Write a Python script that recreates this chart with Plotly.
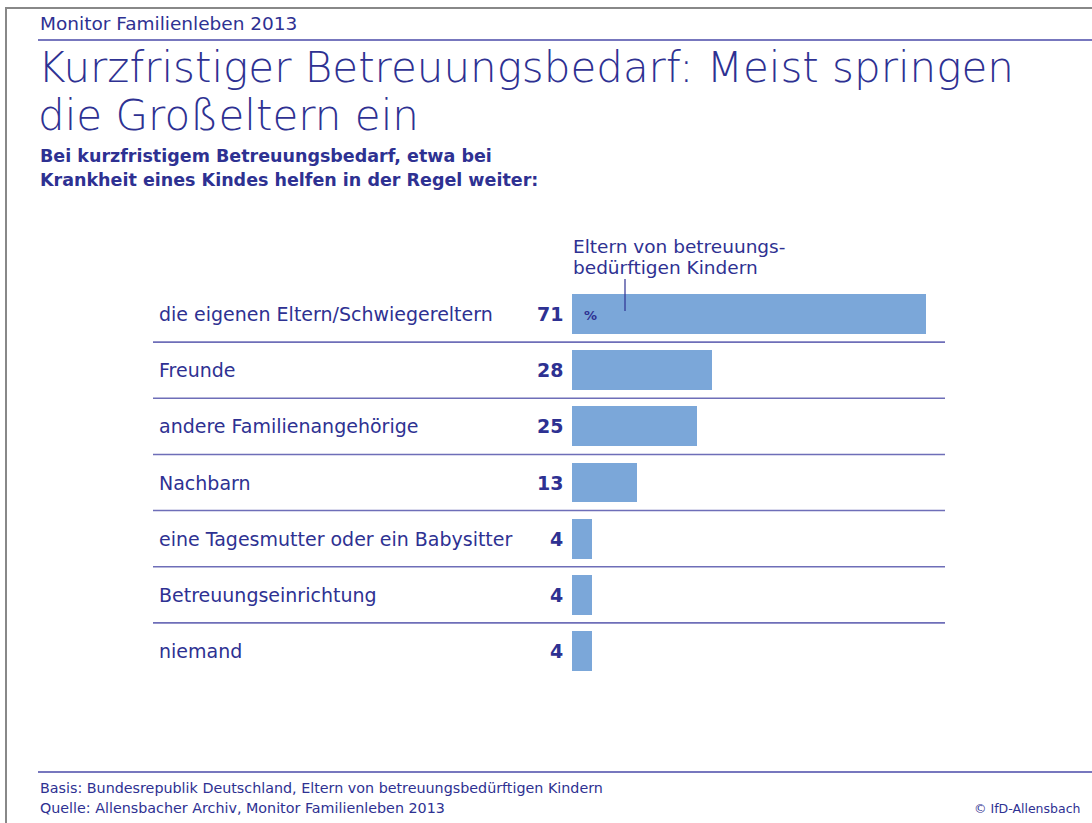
import plotly.graph_objects as go

# ---- data ----
categories = [
    "die eigenen Eltern/Schwiegereltern",
    "Freunde",
    "andere Familienangehörige",
    "Nachbarn",
    "eine Tagesmutter oder ein Babysitter",
    "Betreuungseinrichtung",
    "niemand",
]
values = [71, 28, 25, 13, 4, 4, 4]
series_name_lines = ["Eltern von betreuungs-", "bedürftigen Kindern"]

header = "Monitor Familienleben 2013"
title_lines = ["Kurzfristiger Betreuungsbedarf: Meist springen", "die Großeltern ein"]
subtitle_lines = ["Bei kurzfristigem Betreuungsbedarf, etwa bei",
                  "Krankheit eines Kindes helfen in der Regel weiter:"]
footer_lines = ["Basis: Bundesrepublik Deutschland, Eltern von betreuungsbedürftigen Kindern",
                "Quelle: Allensbacher Archiv, Monitor Familienleben 2013"]
copyright_text = "© IfD-Allensbach"

# ---- style ----
W, H = 1092, 823
ML, MR, MT, MB = 572, 166, 286, 144
PW, PH = W - ML - MR, H - MT - MB
TXT = "#2e3192"
BAR = "#7ba7d9"
FONT = "DejaVu Sans"


def px(x):
    return (x - ML) / PW


def py(y):
    return (H - MB - y) / PH


fig = go.Figure()
fig.add_trace(go.Bar(
    x=values, y=categories, orientation="h",
    marker=dict(color=BAR, line=dict(width=0)),
    width=0.71, hoverinfo="skip", showlegend=False,
))

ann = []
shapes = []

# category labels and values
for c, v in zip(categories, values):
    ann.append(dict(x=px(157), xref="paper", y=c, yref="y", text=c, showarrow=False,
                    xanchor="left", yanchor="middle",
                    font=dict(family=FONT, size=19, color=TXT)))
    ann.append(dict(x=px(565), xref="paper", y=c, yref="y", text="<b>%d</b>" % v, showarrow=False,
                    xanchor="right", yanchor="middle",
                    font=dict(family=FONT, size=19, color=TXT)))

# percent sign in first bar
ann.append(dict(x=2, xref="x", y=categories[0], yref="y", text="<b>%</b>", showarrow=False,
                xanchor="left", yanchor="middle", yshift=-1,
                font=dict(family=FONT, size=13, color=TXT)))

# series label
for t, yy in zip(series_name_lines, [246, 267]):
    ann.append(dict(x=px(571), xref="paper", y=py(yy), yref="paper", text=t, showarrow=False,
                    xanchor="left", yanchor="middle",
                    font=dict(family=FONT, size=18.5, color=TXT)))
shapes.append(dict(type="line", xref="paper", yref="paper", x0=px(625), x1=px(625),
                   y0=py(279), y1=py(311), line=dict(color=TXT, width=1.2)))

# separators between rows
for i in range(len(categories) - 1):
    shapes.append(dict(type="line", xref="paper", yref="y", x0=px(153), x1=px(945),
                       y0=i + 0.5, y1=i + 0.5, line=dict(color="#6e6eb8", width=1.6)))

# header / title / subtitle
ann.append(dict(x=px(38), xref="paper", y=py(23), yref="paper", text=header, showarrow=False,
                xanchor="left", yanchor="middle", font=dict(family=FONT, size=18.5, color=TXT)))
for t, yy in zip(title_lines, [67, 115]):
    ann.append(dict(x=px(36), xref="paper", y=py(yy), yref="paper", text=t, showarrow=False,
                    xanchor="left", yanchor="middle",
                    font=dict(family=FONT, size=42, color=TXT, weight=200)))
for t, yy in zip(subtitle_lines, [156, 180]):
    ann.append(dict(x=px(38), xref="paper", y=py(yy), yref="paper", text="<b>%s</b>" % t, showarrow=False,
                    xanchor="left", yanchor="middle", font=dict(family=FONT, size=17.5, color=TXT)))

# footer
for t, yy in zip(footer_lines, [788, 808]):
    ann.append(dict(x=px(38), xref="paper", y=py(yy), yref="paper", text=t, showarrow=False,
                    xanchor="left", yanchor="middle", font=dict(family=FONT, size=14.3, color=TXT)))
ann.append(dict(x=px(1082), xref="paper", y=py(808), yref="paper", text=copyright_text, showarrow=False,
                xanchor="right", yanchor="middle", font=dict(family=FONT, size=12.5, color=TXT)))

# frame and rules
shapes.append(dict(type="line", xref="paper", yref="paper", x0=px(5), x1=px(W), y0=py(8), y1=py(8),
                   line=dict(color="#888888", width=2)))
shapes.append(dict(type="line", xref="paper", yref="paper", x0=px(6), x1=px(6), y0=py(7), y1=py(H),
                   line=dict(color="#888888", width=2)))
shapes.append(dict(type="line", xref="paper", yref="paper", x0=px(38), x1=px(W), y0=py(40), y1=py(40),
                   line=dict(color="#4a4aa8", width=1.5)))
shapes.append(dict(type="line", xref="paper", yref="paper", x0=px(38), x1=px(W), y0=py(772), y1=py(772),
                   line=dict(color="#4a4aa8", width=1.5)))

fig.update_layout(
    width=W, height=H,
    margin=dict(l=ML, r=MR, t=MT, b=MB),
    paper_bgcolor="white", plot_bgcolor="white",
    xaxis=dict(range=[0, 71], visible=False, fixedrange=True),
    yaxis=dict(categoryorder="array", categoryarray=categories, range=[6.5, -0.5],
               visible=False, fixedrange=True),
    annotations=ann, shapes=shapes,
    bargap=0,
)

fig.write_html("out.html", config={"displayModeBar": False},
               post_script="document.body.style.margin='0';document.body.style.overflow='hidden';")
